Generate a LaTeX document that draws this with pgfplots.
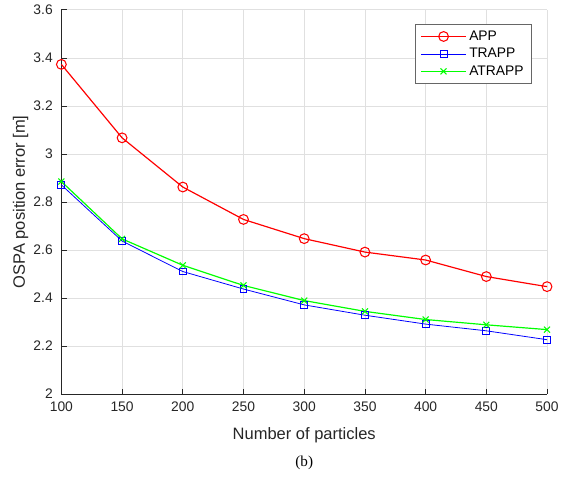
\documentclass[border=0pt]{standalone}
\usepackage{pgfplots}
\pgfplotsset{compat=1.18}
\usepackage{fontspec}
\setmainfont{Liberation Sans}
\newfontfamily\capfont{Liberation Serif}

\definecolor{axgray}{gray}{0.15}
\definecolor{gridgray}{gray}{0.88}

\begin{document}
\begin{tikzpicture}
\begin{axis}[
    width=368pt, height=291pt,
    scale only axis,
    xmin=100, xmax=500,
    ymin=2, ymax=3.6,
    xtick={100,150,...,500},
    ytick={2,2.2,...,3.6},
    axis x line*=bottom,
    axis y line*=left,
    axis line style={axgray, line width=0.6pt},
    tick style={axgray, line width=0.6pt},
    tick align=inside,
    major tick length=4pt,
    grid=major,
    major grid style={gridgray, line width=0.6pt},
    ticklabel style={font=\fontsize{10.5}{12}\selectfont, text=axgray},
    xticklabel style={yshift=-2.5pt},
    yticklabel style={xshift=-3pt, /pgf/number format/fixed},
    /pgf/number format/assume math mode=true,
    xlabel={Number of particles},
    ylabel={OSPA position error [m]},
    label style={font=\fontsize{12.5}{14}\selectfont, text=axgray},
    xlabel style={yshift=-5pt},
    ylabel style={yshift=-3pt},
    clip=false,
    legend cell align=left,
    legend style={at={(0.969,0.964)}, anchor=north east,
        font=\fontsize{10.5}{12}\selectfont, draw=black!60, line width=0.6pt,
        inner xsep=4pt, inner ysep=3pt, row sep=0.5pt},
    legend image code/.code={\draw[mark repeat=2,mark phase=2]
        plot coordinates {(0pt,0pt) (17pt,0pt) (34pt,0pt)};},
]
\addplot[red, line width=0.9pt, mark=o, mark size=3.7pt, mark options={line width=0.8pt}] coordinates {
    (100,3.373) (150,3.067) (200,2.862) (250,2.727) (300,2.647)
    (350,2.591) (400,2.558) (450,2.489) (500,2.447)
};
\addplot[blue, line width=0.6pt, mark=square, mark size=2.6pt, mark options={line width=0.7pt}] coordinates {
    (100,2.871) (150,2.637) (200,2.510) (250,2.437) (300,2.371)
    (350,2.328) (400,2.291) (450,2.263) (500,2.226)
};
\addplot[green, line width=0.9pt, mark=x, mark size=3.2pt, mark options={line width=0.8pt}] coordinates {
    (100,2.885) (150,2.646) (200,2.536) (250,2.452) (300,2.389)
    (350,2.344) (400,2.310) (450,2.288) (500,2.268)
};
\legend{APP, TRAPP, ATRAPP}
\end{axis}
\node[font=\capfont\fontsize{11.5}{13}\selectfont] at ([yshift=-52pt]current axis.south) {(b)};
\path (current axis.south west) +(-46.5pt,-64.5pt) coordinate (bbA);
\path (current axis.north east) +(7.5pt,7.5pt) coordinate (bbB);
\path (bbA) rectangle (bbB);
\end{tikzpicture}
\end{document}
